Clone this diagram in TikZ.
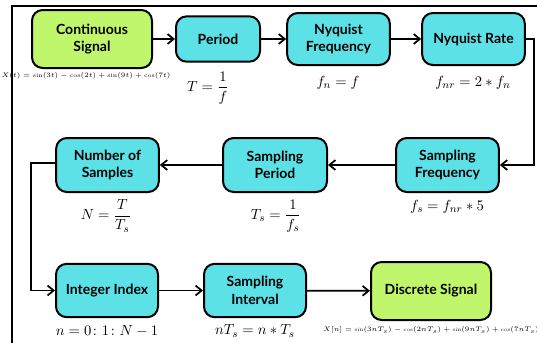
\documentclass[tikz,border=0pt]{standalone}
\usepackage{fontspec}
\setsansfont{Lato}
\usepackage{amsmath}
\usepackage{tikz}
\usetikzlibrary{arrows.meta,positioning,calc}
\definecolor{sigGreen}{HTML}{BFF66C}
\definecolor{stepCyan}{HTML}{5CE1E6}
\tikzset{
  blok/.style={draw=black, line width=1.5pt, rounded corners=8pt, align=center, font=\sffamily\bfseries\fontsize{10.5}{13}\selectfont, fill=#1},
  eqn/.style={inner sep=0pt, font=\fontsize{11}{13}\selectfont},
  eqnsmall/.style={inner sep=0pt, font=\fontsize{4.4}{6}\selectfont},
  arrflow/.style={-{Straight Barb[length=1.6mm,width=2.6mm]}, line width=1.3pt},
}
\begin{document}
\begin{tikzpicture}[x=0.75pt,y=-0.75pt]
\useasboundingbox (0,0) rectangle (537,343);
% frame
\draw[line width=1.4pt] (12,343) -- (12,6) -- (537,6);
% first row
\node[blok=sigGreen, minimum width=90pt, minimum height=43.5pt] (cs) at (92,39) {Continuous\\Signal};
\node[blok=stepCyan, minimum width=63pt, minimum height=34pt] (per) at (218,39) {Period};
\node[blok=stepCyan, minimum width=77pt, minimum height=39pt] (nf) at (338.5,39) {Nyquist\\Frequency};
\node[blok=stepCyan, minimum width=77pt, minimum height=39pt] (nr) at (473.5,39) {Nyquist Rate};
% second row
\node[blok=stepCyan, minimum width=77pt, minimum height=40.5pt] (sf) at (447.5,165) {Sampling\\Frequency};
\node[blok=stepCyan, minimum width=78pt, minimum height=40.5pt] (sp) at (275,165) {Sampling\\Period};
\node[blok=stepCyan, minimum width=77pt, minimum height=40.5pt] (ns) at (107.5,165) {Number of\\Samples};
% third row
\node[blok=stepCyan, minimum width=76.5pt, minimum height=40pt] (ii) at (107,290.5) {Integer Index};
\node[blok=stepCyan, minimum width=76.5pt, minimum height=40pt] (si) at (255,290.5) {Sampling\\Interval};
\node[blok=sigGreen, minimum width=90pt, minimum height=43.5pt] (ds) at (431,291) {Discrete Signal};
% formulas
\node[eqnsmall] (xt) at (86,76) {$X(t)=\sin(3t)-\cos(2t)+\sin(9t)+\cos(7t)$};
\node[eqn] (eqper) at (208,88) {$T=\dfrac{1}{f}$};
\node[eqn] (eqnf) at (338,83) {$f_n=f$};
\node[eqn] (eqnr) at (473,83) {$f_{nr}=2*f_n$};
\node[eqn] (eqsf) at (447,207) {$f_s=f_{nr}*5$};
\node[eqn] (eqsp) at (276,216) {$T_s=\dfrac{1}{f_s}$};
\node[eqn] (eqns) at (106,216) {$N=\dfrac{T}{T_s}$};
\node[eqn] (eqii) at (107,331) {$n=0\colon 1\colon N-1$};
\node[eqn] (eqsi) at (255,331) {$nT_s=n*T_s$};
\node[eqnsmall, font=\fontsize{3.9}{5}\selectfont] (xn) at (431,330) {$X[n]=\sin(3nT_s)-\cos(2nT_s)+\sin(9nT_s)+\cos(7nT_s)$};
% connectors
\coordinate (rturn) at (534,39);
\coordinate (lturn) at (31,163);
\draw[arrflow] (cs) -- (per);
\draw[arrflow] (per) -- (nf);
\draw[arrflow] (nf) -- (nr);
\draw[arrflow] (nr.east) -- (rturn) |- (sf.east);
\draw[arrflow] (sf) -- (sp);
\draw[arrflow] (sp) -- (ns);
\draw[arrflow] (ns.west |- lturn) -- (lturn) |- (ii.west);
\draw[arrflow] (ii) -- (si);
\draw[arrflow] (si) -- (ds);
\end{tikzpicture}
\end{document}
